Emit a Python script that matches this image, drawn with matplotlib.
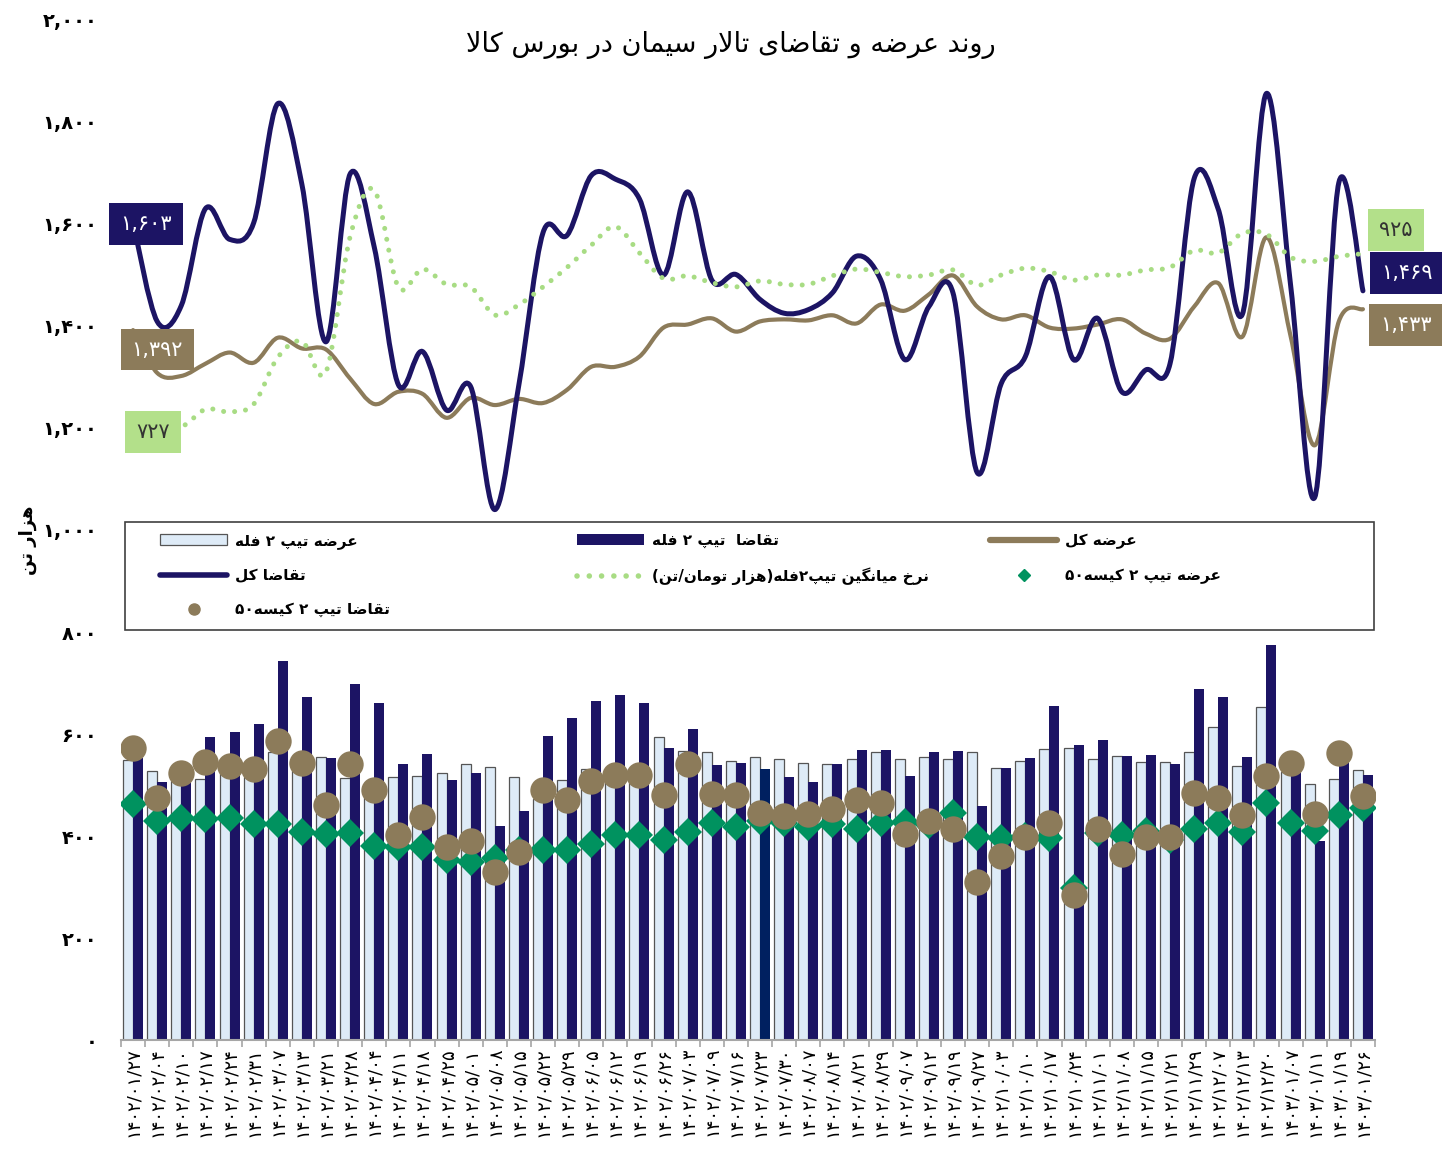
import matplotlib
matplotlib.use('Agg')
import matplotlib.pyplot as plt
import numpy as np
from matplotlib.path import Path
from matplotlib.patches import PathPatch, Rectangle, Patch
from matplotlib.lines import Line2D

# ---- data (thousand tonnes / thousand toman per tonne) ----
dates = ['1402/01/27', '1402/02/04', '1402/02/10', '1402/02/17', '1402/02/24', '1402/02/31',
         '1402/03/07', '1402/03/13', '1402/03/21', '1402/03/28', '1402/04/04', '1402/04/11',
         '1402/04/18', '1402/04/25', '1402/05/01', '1402/05/08', '1402/05/15', '1402/05/22',
         '1402/05/29', '1402/06/05', '1402/06/12', '1402/06/19', '1402/06/26', '1402/07/03',
         '1402/07/09', '1402/07/16', '1402/07/23', '1402/07/30', '1402/08/07', '1402/08/14',
         '1402/08/21', '1402/08/29', '1402/09/07', '1402/09/12', '1402/09/19', '1402/09/27',
         '1402/10/03', '1402/10/10', '1402/10/17', '1402/10/24', '1402/11/01', '1402/11/08',
         '1402/11/15', '1402/11/21', '1402/11/29', '1402/12/07', '1402/12/13', '1402/12/20',
         '1403/01/07', '1403/01/11', '1403/01/19', '1403/01/26']

supply_bulk = [549, 528, 508, 512, 525, 515, 565, 530, 554, 514, 495, 516, 518, 523, 541, 535,
               516, 473, 510, 531, 515, 512, 595, 567, 564, 547, 554, 551, 544, 541, 551, 564,
               551, 554, 551, 565, 534, 548, 571, 572, 551, 556, 545, 546, 565, 614, 538, 653,
               525, 502, 512, 529]
demand_bulk = [553, 506, 510, 595, 604, 620, 744, 673, 552, 699, 661, 541, 561, 510, 523, 420,
               449, 597, 631, 665, 676, 661, 572, 610, 539, 543, 531, 516, 506, 541, 569, 569,
               518, 564, 567, 458, 533, 553, 654, 578, 588, 556, 559, 541, 689, 673, 555, 775,
               535, 390, 548, 520]
supply_bag = [463, 429, 435, 433, 436, 424, 424, 408, 404, 406, 380, 379, 378, 353, 350, 357,
              372, 373, 373, 384, 402, 402, 392, 408, 425, 418, 430, 426, 418, 424, 414, 425,
              428, 422, 445, 399, 396, 400, 396, 298, 406, 402, 409, 392, 414, 426, 408, 465,
              425, 410, 441, 455]
demand_bag = [572, 475, 523, 546, 537, 531, 586, 544, 460, 542, 490, 402, 438, 379, 390, 330,
              369, 490, 470, 507, 520, 520, 480, 541, 483, 480, 445, 439, 444, 453, 470, 465,
              404, 429, 413, 310, 361, 398, 426, 284, 414, 364, 399, 399, 485, 474, 441, 518,
              544, 443, 563, 478]
total_supply = [1392, 1308, 1302, 1326, 1348, 1328, 1377, 1356, 1354, 1297, 1247, 1271, 1267,
                1220, 1259, 1245, 1257, 1249, 1275, 1320, 1320, 1340, 1397, 1403, 1415, 1389,
                1409, 1413, 1411, 1421, 1405, 1442, 1430, 1462, 1499, 1438, 1413, 1421, 1397,
                1395, 1403, 1413, 1385, 1375, 1438, 1484, 1379, 1574, 1380, 1166, 1409, 1433]
total_demand = [1603, 1409, 1440, 1630, 1570, 1602, 1836, 1678, 1369, 1698, 1555, 1285, 1350,
                1235, 1281, 1040, 1285, 1583, 1578, 1695, 1688, 1649, 1500, 1663, 1490, 1501,
                1452, 1425, 1432, 1465, 1537, 1491, 1334, 1438, 1465, 1113, 1287, 1340, 1497,
                1334, 1415, 1271, 1314, 1326, 1689, 1629, 1423, 1856, 1480, 1064, 1681, 1469]
avg_price = [727, 733, 722, 742, 739, 748, 803, 822, 786, 945, 1000, 886, 907, 889, 886, 853,
             865, 886, 909, 935, 957, 926, 896, 899, 891, 886, 893, 889, 889, 899, 907, 903,
             898, 900, 906, 888, 900, 908, 904, 894, 900, 900, 906, 909, 929, 926, 949, 948,
             921, 916, 922, 925]

title = 'روند عرضه و تقاضای تالار سیمان در بورس کالا'
ylabel = 'هزار تن'
lbl_supply_bulk = 'عرضه تیپ ۲ فله'
lbl_demand_bulk = 'تقاضا  تیپ ۲ فله'
lbl_total_supply = 'عرضه کل'
lbl_total_demand = 'تقاضا کل'
lbl_price = 'نرخ میانگین تیپ۲فله(هزار تومان/تن)'
lbl_supply_bag = 'عرضه تیپ ۲ کیسه۵۰'
lbl_demand_bag = 'تقاضا تیپ ۲ کیسه۵۰'

NAVY = '#1c1464'
BROWN = '#8c7b5a'
LIGHT = '#deebf7'
DGREEN = '#00925f'
DOTGREEN = '#a8dc84'
BOXGREEN = '#b3e08a'

# ---- minimal Persian shaping (matplotlib has no RTL shaping) ----
AR = {
    'ا': ('\uFE8D', '\uFE8E', None, None),
    'ب': ('\uFE8F', '\uFE90', '\uFE91', '\uFE92'),
    'پ': ('\uFB56', '\uFB57', '\uFB58', '\uFB59'),
    'ت': ('\uFE95', '\uFE96', '\uFE97', '\uFE98'),
    'خ': ('\uFEA5', '\uFEA6', '\uFEA7', '\uFEA8'),
    'د': ('\uFEA9', '\uFEAA', None, None),
    'ر': ('\uFEAD', '\uFEAE', None, None),
    'ز': ('\uFEAF', '\uFEB0', None, None),
    'س': ('\uFEB1', '\uFEB2', '\uFEB3', '\uFEB4'),
    'ض': ('\uFEBD', '\uFEBE', '\uFEBF', '\uFEC0'),
    'ع': ('\uFEC9', '\uFECA', '\uFECB', '\uFECC'),
    'ف': ('\uFED1', '\uFED2', '\uFED3', '\uFED4'),
    'ق': ('\uFED5', '\uFED6', '\uFED7', '\uFED8'),
    '\u06A9': ('\uFB8E', '\uFB8F', '\uFB90', '\uFB91'),
    'گ': ('\uFB92', '\uFB93', '\uFB94', '\uFB95'),
    'ل': ('\uFEDD', '\uFEDE', '\uFEDF', '\uFEE0'),
    'م': ('\uFEE1', '\uFEE2', '\uFEE3', '\uFEE4'),
    'ن': ('\uFEE5', '\uFEE6', '\uFEE7', '\uFEE8'),
    'و': ('\uFEED', '\uFEEE', None, None),
    'ه': ('\uFEE9', '\uFEEA', '\uFEEB', '\uFEEC'),
    '\u06CC': ('\uFBFC', '\uFBFD', '\uFBFE', '\uFBFF'),
}
MIRROR = {'(': ')', ')': '('}


def dual(c):
    return c in AR and AR[c][2] is not None


def fa(text):
    text = text.replace('\u064A', '\u06CC').replace('\u0643', '\u06A9')
    glyphs = []
    i, n = 0, len(text)
    while i < n:
        c = text[i]
        if c not in AR:
            glyphs.append(c)
            i += 1
            continue
        join_prev = i > 0 and dual(text[i - 1])
        if c == 'ل' and i + 1 < n and text[i + 1] == 'ا':
            glyphs.append('\uFEFC' if join_prev else '\uFEFB')
            i += 2
            continue
        join_next = dual(c) and i + 1 < n and text[i + 1] in AR
        iso, fin, ini, med = AR[c]
        if join_prev and join_next:
            glyphs.append(med)
        elif join_prev:
            glyphs.append(fin)
        elif join_next:
            glyphs.append(ini)
        else:
            glyphs.append(iso)
        i += 1
    tokens = []
    for g in glyphs:
        if g.isdigit() and tokens and tokens[-1][-1].isdigit():
            tokens[-1] += g
        else:
            tokens.append(MIRROR.get(g, g))
    return ''.join(reversed(tokens))


FA_DIGITS = str.maketrans('0123456789', '۰۱۲۳۴۵۶۷۸۹')


def fa_num(v):
    return f'{v:,.0f}'.translate(FA_DIGITS)


def smooth_path(xs, ys):
    # Excel-like smoothed line: cubic bezier through each data point
    pts = np.column_stack([xs, ys]).astype(float)
    n = len(pts)
    verts = [pts[0]]
    codes = [Path.MOVETO]
    for k in range(n - 1):
        p0 = pts[max(k - 1, 0)]
        p1, p2 = pts[k], pts[k + 1]
        p3 = pts[min(k + 2, n - 1)]
        verts += [p1 + (p2 - p0) / 6.0, p2 - (p3 - p1) / 6.0, p2]
        codes += [Path.CURVE4] * 3
    return Path(verts, codes)


W, H = 1442, 1149
fig = plt.figure(figsize=(W / 100, H / 100), dpi=100)
ax = fig.add_axes([121 / W, 1 - 1040 / H, 1254 / W, 1020 / H])
x = np.arange(len(dates))

ax.bar(x - 0.2075, supply_bulk, width=0.415, color=LIGHT, edgecolor='#555555', linewidth=0.9, zorder=2)
bar_colors = [NAVY] * len(dates)
bar_colors[26] = '#002060'
ax.bar(x + 0.2075, demand_bulk, width=0.415, color=bar_colors, edgecolor='none', zorder=2)

ax.plot(x, supply_bag, ls='none', marker='D', markersize=14, color=DGREEN, markeredgewidth=0, zorder=3)
ax.plot(x, demand_bag, ls='none', marker='o', markersize=19, color=BROWN, markeredgewidth=0, zorder=4)

ax.add_patch(PathPatch(smooth_path(x, total_supply), fill=False, edgecolor=BROWN, lw=3.0,
                       capstyle='round', joinstyle='round', zorder=5))
ax.add_patch(PathPatch(smooth_path(x, total_demand), fill=False, edgecolor=NAVY, lw=3.6,
                       capstyle='round', joinstyle='round', zorder=5))

ax.set_xlim(-0.5, len(dates) - 0.5)
ax.set_ylim(0, 2000)
ax.set_yticks(range(0, 2001, 200))
ax.set_yticklabels([fa_num(v) for v in range(0, 2001, 200)], fontsize=14, fontweight='bold')
ax.tick_params(axis='y', length=0, pad=17)
ax.set_xticks(x)
ax.set_xticklabels([d.translate(FA_DIGITS) for d in dates], rotation=90, fontsize=13)
ax.set_xticks(np.arange(-0.5, len(dates), 1), minor=True)
ax.tick_params(axis='x', which='major', length=0, pad=5)
ax.tick_params(axis='x', which='minor', length=5, color='#a6a6a6', width=1.2)
for side in ['left', 'right', 'top']:
    ax.spines[side].set_visible(False)
ax.spines['bottom'].set_color('#a6a6a6')
ax.spines['bottom'].set_linewidth(1.5)

ax2 = ax.twinx()
ax2.set_ylim(0, 1200)
ax2.axis('off')
ax2.add_patch(PathPatch(smooth_path(x, avg_price), fill=False, edgecolor=DOTGREEN, lw=3.6,
                        linestyle=(0, (0.01, 2.2)), capstyle='round', zorder=5))


def value_box(axis, i, v, dx, dy, fc, tc):
    axis.annotate(fa_num(v), xy=(i, v), xytext=(dx, dy), textcoords='offset pixels',
                  ha='center', va='center', fontsize=15, color=tc, zorder=8,
                  annotation_clip=False,
                  bbox=dict(boxstyle='square,pad=0.52', fc=fc, ec='none'))


last = len(dates) - 1
value_box(ax, 0, total_demand[0], 13, -1.5, NAVY, 'white')
value_box(ax, 0, total_supply[0], 24, -19.5, BROWN, 'white')
value_box(ax2, 0, avg_price[0], 20, -10, BOXGREEN, '#333333')
value_box(ax2, last, avg_price[last], 33, 24, BOXGREEN, '#333333')
value_box(ax, last, total_demand[last], 44, 17.5, NAVY, 'white')
value_box(ax, last, total_supply[last], 43, -16, BROWN, 'white')

fig.text(731 / W, 1 - 45 / H, fa(title), ha='center', va='center', fontsize=19.5)
fig.text(28 / W, 1 - 540 / H, fa(ylabel), ha='center', va='center', rotation=90,
         fontsize=13, fontweight='bold')

# ---- legend: framed box with three columns ----
fig.patches.append(Rectangle((125 / W, 1 - 630 / H), 1249 / W, 108 / H, transform=fig.transFigure,
                             facecolor='white', edgecolor='#404040', lw=1.2, zorder=4))
h_sb = Patch(facecolor=LIGHT, edgecolor='#555555', lw=0.9)
h_db = Patch(facecolor=NAVY, edgecolor='none')
h_ts = Line2D([], [], color=BROWN, lw=4.5, solid_capstyle='round')
h_td = Line2D([], [], color=NAVY, lw=4.0, solid_capstyle='round')
h_pr = Line2D([], [], color=DOTGREEN, lw=4.0, linestyle=(0, (0.01, 2.2)), dash_capstyle='round')
h_sg = Line2D([], [], ls='none', marker='D', color=DGREEN, markersize=6)
h_dg = Line2D([], [], ls='none', marker='o', color=BROWN, markersize=8)

columns = [
    (160, [h_sb, h_td, h_dg], [lbl_supply_bulk, lbl_total_demand, lbl_demand_bag]),
    (577, [h_db, h_pr], [lbl_demand_bulk, lbl_price]),
    (990, [h_ts, h_sg], [lbl_total_supply, lbl_supply_bag]),
]
for left, hs, ls in columns:
    fig.legend(hs, [fa(s) for s in ls], loc='upper left', bbox_to_anchor=(left / W, 1 - 533 / H),
               frameon=False, borderpad=0, borderaxespad=0, handlelength=4.4, handletextpad=0.5,
               labelspacing=1.25, prop={'size': 11, 'weight': 'bold'})

fig.savefig('out.png', dpi=100)
